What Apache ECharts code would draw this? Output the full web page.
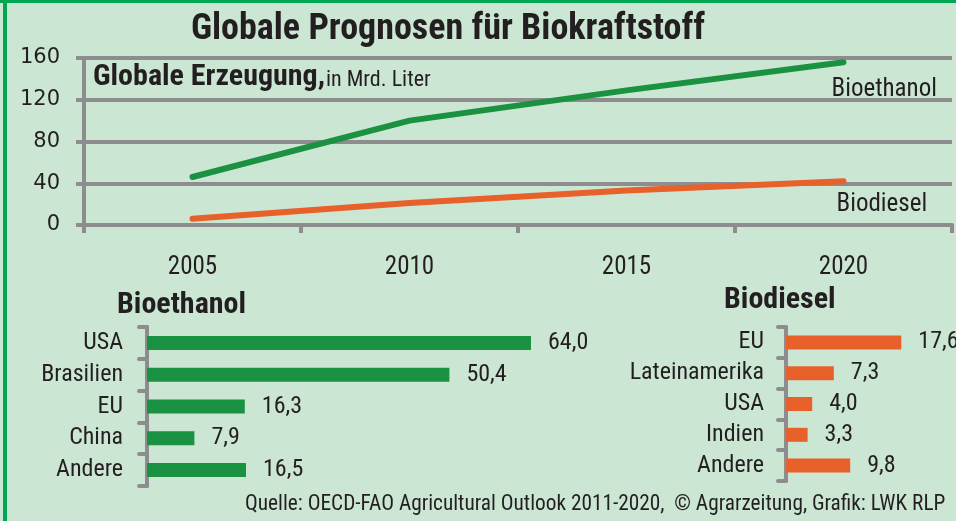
<!DOCTYPE html>
<html>
<head>
<meta charset="utf-8">
<script src="https://cdn.jsdelivr.net/npm/echarts@6/dist/echarts.min.js"></script>
<style>
  html, body { margin: 0; padding: 0; background: #cce6d4; }
  #chart { width: 956px; height: 521px; }
</style>
</head>
<body>
<div id="chart"></div>
<script>
const years = ['2005', '2010', '2015', '2020']
const bioethanolOutput = [46, 100, 129, 156]
const biodieselOutput = [6, 21, 33, 42]
const yTicks = { min: 0, max: 160, interval: 40 }

const ethanolRegions = ['USA', 'Brasilien', 'EU', 'China', 'Andere']
const ethanolValues = [64.0, 50.4, 16.3, 7.9, 16.5]
const dieselRegions = ['EU', 'Lateinamerika', 'USA', 'Indien', 'Andere']
const dieselValues = [17.6, 7.3, 4.0, 3.3, 9.8]

const GREEN = '#1b9142'
const ORANGE = '#e8612a'
const GRAY = '#8d8d8f'
const INK = '#231f20'
const NARROW = "'Liberation Sans Narrow', 'Arial Narrow', 'Roboto Condensed', 'Liberation Sans', sans-serif"
const WIDE = "'DejaVu Sans', Verdana, sans-serif"

const chart = echarts.init(document.getElementById('chart'))

const fmt = (p) => p.value.toFixed(1).replace('.', ',')

const barYAxis = (idx, cats, margin) => ({
  type: 'category',
  gridIndex: idx,
  data: cats,
  inverse: true,
  axisLine: { show: true, lineStyle: { color: GRAY, width: 4 } },
  axisTick: { show: true, length: 8, lineStyle: { color: GRAY, width: 4, cap: 'round' } },
  axisLabel: { color: INK, fontSize: 24, fontFamily: NARROW, margin: margin, interval: 0 },
})

const barXAxis = (idx, max) => ({
  type: 'value',
  gridIndex: idx,
  min: 0,
  max: max,
  show: false,
})

const barSeries = (idx, data, color) => ({
  type: 'bar',
  xAxisIndex: idx,
  yAxisIndex: idx,
  data: data,
  barWidth: 14,
  itemStyle: { color: color },
  label: {
    show: true,
    position: 'right',
    distance: 17,
    color: INK,
    fontSize: 24,
    fontFamily: NARROW,
    formatter: fmt,
  },
})

const option = {
  animation: false,
  backgroundColor: '#cce6d4',
  grid: [
    { left: 84, top: 58, width: 868, height: 167 },
    { left: 147, top: 327, width: 600, height: 159 },
    { left: 786, top: 327, width: 131, height: 154 },
  ],
  xAxis: [
    {
      type: 'category',
      gridIndex: 0,
      data: years,
      boundaryGap: true,
      axisLine: { show: true, lineStyle: { color: GRAY, width: 4 } },
      axisTick: { show: true, length: 8, lineStyle: { color: GRAY, width: 4 } },
      axisLabel: { color: INK, fontSize: 25, fontFamily: NARROW, margin: 30, interval: 0 },
    },
    barXAxis(1, 100),
    barXAxis(2, 20),
  ],
  yAxis: [
    {
      type: 'value',
      gridIndex: 0,
      min: yTicks.min,
      max: yTicks.max,
      interval: yTicks.interval,
      axisLine: { show: true, lineStyle: { color: GRAY, width: 4 } },
      axisTick: { show: true, length: 8, lineStyle: { color: GRAY, width: 4 } },
      splitLine: { show: true, lineStyle: { color: GRAY, width: 4 } },
      axisLabel: { color: INK, fontSize: 21, fontFamily: WIDE, margin: 24 },
    },
    barYAxis(1, ethanolRegions, 24),
    barYAxis(2, dieselRegions, 22),
  ],
  series: [
    {
      name: 'Bioethanol',
      type: 'line',
      xAxisIndex: 0,
      yAxisIndex: 0,
      data: bioethanolOutput,
      showSymbol: false,
      lineStyle: { color: GREEN, width: 6, cap: 'round', join: 'round' },
      itemStyle: { color: GREEN },
      endLabel: {
        show: true,
        formatter: '{a}',
        distance: 0,
        offset: [-12, 28],
        color: INK,
        fontSize: 25,
        fontFamily: NARROW,
      },
    },
    {
      name: 'Biodiesel',
      type: 'line',
      xAxisIndex: 0,
      yAxisIndex: 0,
      data: biodieselOutput,
      showSymbol: false,
      lineStyle: { color: ORANGE, width: 6, cap: 'round', join: 'round' },
      itemStyle: { color: ORANGE },
      endLabel: {
        show: true,
        formatter: '{a}',
        distance: 0,
        offset: [-7, 24],
        color: INK,
        fontSize: 25,
        fontFamily: NARROW,
      },
    },
    barSeries(1, ethanolValues, GREEN),
    barSeries(2, dieselValues, ORANGE),
  ],
  graphic: [
    { type: 'rect', shape: { x: 0, y: 0, width: 956, height: 3 }, style: { fill: '#00a651' } },
    { type: 'rect', shape: { x: 3, y: 0, width: 4, height: 521 }, style: { fill: '#00a651' } },
    {
      type: 'text', x: 448, y: 30,
      style: {
        text: 'Globale Prognosen für Biokraftstoff',
        font: 'bold 36px ' + NARROW, fill: INK, align: 'center', verticalAlign: 'middle',
      },
    },
    {
      type: 'text', x: 93, y: 77,
      style: { text: 'Globale Erzeugung,', font: 'bold 30px ' + NARROW, fill: INK, verticalAlign: 'middle' },
    },
    {
      type: 'text', x: 326, y: 80,
      style: { text: 'in Mrd. Liter', font: '22px ' + NARROW, fill: INK, verticalAlign: 'middle' },
    },
    {
      type: 'text', x: 117, y: 305,
      style: { text: 'Bioethanol', font: 'bold 30px ' + NARROW, fill: INK, verticalAlign: 'middle' },
    },
    {
      type: 'text', x: 724, y: 300,
      style: { text: 'Biodiesel', font: 'bold 30px ' + NARROW, fill: INK, verticalAlign: 'middle' },
    },
    {
      type: 'text', x: 245, y: 505,
      style: {
        text: 'Quelle: OECD-FAO Agricultural Outlook 2011-2020,  © Agrarzeitung, Grafik: LWK RLP',
        font: '21.3px ' + NARROW, fill: INK, verticalAlign: 'middle',
      },
    },
  ],
}

chart.setOption(option)
</script>
</body>
</html>
